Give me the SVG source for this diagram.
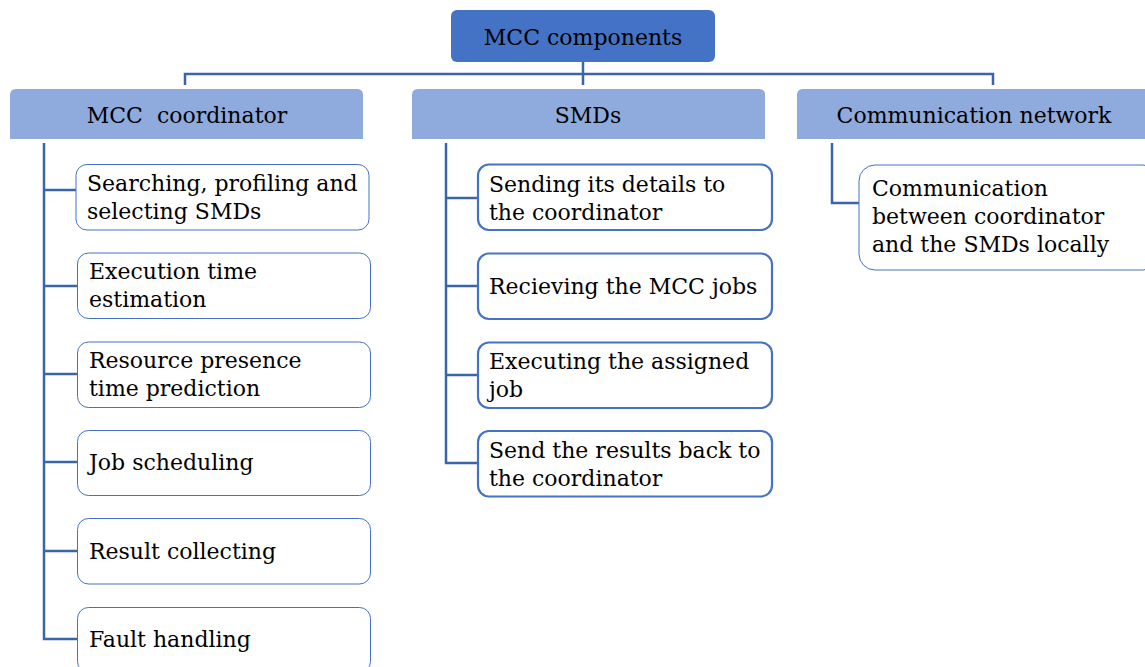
<svg xmlns="http://www.w3.org/2000/svg" width="1145" height="667" viewBox="0 0 1145 667">
  <style>
    text { font-family: "DejaVu Serif", "Liberation Serif", serif; font-size: 22px; fill: #000; }
    .hdr { text-anchor: middle; }
    .root { fill: #4472C4; }
    .cat { fill: #8FAADC; }
    .leaf { fill: #fff; stroke: #4472C4; stroke-width: 1; }
    .leafb { fill: #fff; stroke: #4472C4; stroke-width: 2.2; }
    .conn { fill: none; stroke: #3B64AD; stroke-width: 2.5; }
  </style>
  <rect width="1145" height="667" fill="#fff"/>

  <g id="connectors">
    <path class="conn" d="M185,85 V74 H993 V85 M583,62 V85"/>
    <path class="conn" d="M44,143 V639 H77 M44,190 H77 M44,286 H77 M44,374 H77 M44,462 H77 M44,551 H77"/>
    <path class="conn" d="M446,143 V463 H478 M446,198 H478 M446,286 H478 M446,375 H478"/>
    <path class="conn" d="M832,143 V203 H859"/>
  </g>

  <g id="root">
    <rect class="root" x="451" y="10" width="264" height="52" rx="6"/>
    <text class="hdr" x="583" y="45">MCC components</text>
  </g>

  <g id="coordinator">
    <path class="cat" d="M10,139 V95 Q10,89 16,89 H357 Q363,89 363,95 V139 Z"/>
    <text class="hdr" x="187" y="123" xml:space="preserve">MCC  coordinator</text>
  </g>
  <g id="smds">
    <path class="cat" d="M412,139 V95 Q412,89 418,89 H759 Q765,89 765,95 V139 Z"/>
    <text class="hdr" x="588" y="123">SMDs</text>
  </g>
  <g id="network">
    <path class="cat" d="M797,139 V95 Q797,89 803,89 H1145 V139 Z"/>
    <text class="hdr" x="974" y="123">Communication network</text>
  </g>

  <g id="c1">
    <rect class="leaf" x="76" y="164.5" width="293" height="65.5" rx="11"/>
    <text x="87" y="191">Searching, profiling and</text>
    <text x="87" y="219">selecting SMDs</text>
  </g>
  <g id="c2">
    <rect class="leaf" x="77.5" y="253" width="293" height="65.5" rx="11"/>
    <text x="89" y="279">Execution time</text>
    <text x="89" y="307">estimation</text>
  </g>
  <g id="c3">
    <rect class="leaf" x="77.5" y="342" width="293" height="65.5" rx="11"/>
    <text x="89" y="368">Resource presence</text>
    <text x="89" y="396">time prediction</text>
  </g>
  <g id="c4">
    <rect class="leaf" x="77.5" y="430.5" width="293" height="65" rx="11"/>
    <text x="89" y="470">Job scheduling</text>
  </g>
  <g id="c5">
    <rect class="leaf" x="77.5" y="518.5" width="293" height="65.5" rx="11"/>
    <text x="89" y="559">Result collecting</text>
  </g>
  <g id="c6">
    <rect class="leaf" x="77.5" y="607.5" width="293" height="65" rx="11"/>
    <text x="89" y="647">Fault handling</text>
  </g>

  <g id="s1">
    <rect class="leafb" x="478" y="164.5" width="294" height="65.5" rx="11"/>
    <text x="489" y="192">Sending its details to</text>
    <text x="489" y="220">the coordinator</text>
  </g>
  <g id="s2">
    <rect class="leafb" x="478" y="253.5" width="294" height="65.5" rx="11"/>
    <text x="489" y="294">Recieving the MCC jobs</text>
  </g>
  <g id="s3">
    <rect class="leafb" x="478" y="342.5" width="294" height="65.5" rx="11"/>
    <text x="489" y="369">Executing the assigned</text>
    <text x="489" y="397">job</text>
  </g>
  <g id="s4">
    <rect class="leafb" x="478" y="431" width="294" height="65.5" rx="11"/>
    <text x="489" y="458">Send the results back to</text>
    <text x="489" y="486">the coordinator</text>
  </g>

  <g id="n1">
    <rect class="leaf" x="859" y="165" width="300" height="105" rx="16"/>
    <text x="872" y="196">Communication</text>
    <text x="872" y="224">between coordinator</text>
    <text x="872" y="252">and the SMDs locally</text>
  </g>
</svg>
